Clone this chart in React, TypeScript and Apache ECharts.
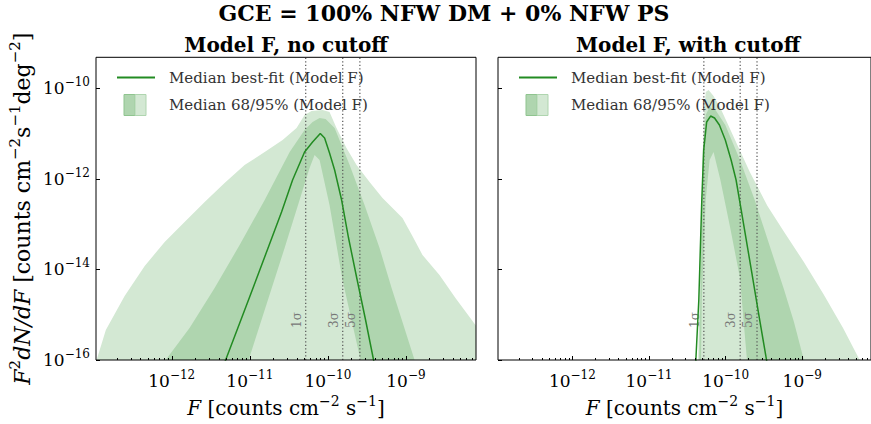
import { useEffect, useRef } from 'react';
import * as echarts from 'echarts';

const FONT = "'DejaVu Serif', serif";

// axis ranges
const X_MIN = 1.07e-13;
const X_MAX = 7.9e-9;
const Y_MIN = 9.99e-17;
const Y_MAX = 4.84e-10;

const xMajorTicks = [1e-12, 1e-11, 1e-10, 1e-9];
const yMajorTicks = [1e-16, 1e-14, 1e-12, 1e-10];
const xDecades = [-13, -12, -11, -10, -9];

const sigmaValues = [5.2e-11, 1.55e-10, 2.57e-10];
const sigmaLabels = ['1σ', '3σ', '5σ'];

// ---- Left panel: Model F, no cutoff ----
const lightLeftF = [1.09e-13, 1.43e-13, 2.49e-13, 4.5e-13, 8.11e-13, 1.46e-12, 2.64e-12, 4.75e-12, 8.57e-12, 1.55e-11, 2.63e-11, 3.97e-11, 5.03e-11, 6.18e-11, 8.55e-11, 1.05e-10, 1.29e-10, 1.73e-10, 2.33e-10, 3.42e-10, 5.01e-10, 7.14e-10, 9.03e-10, 1.21e-9, 1.63e-9, 2.69e-9, 4.31e-9, 7.78e-9, 1.17e-8];
const lightLeftY = [1e-16, 4.59e-16, 2.59e-15, 1.19e-14, 4.04e-14, 1.11e-13, 3.08e-13, 8.11e-13, 2.02e-12, 3.92e-12, 7.21e-12, 1.33e-11, 2.57e-11, 3.15e-11, 3.32e-11, 3.0e-11, 1.33e-11, 4.81e-12, 2.02e-12, 8.53e-13, 3.78e-13, 2.05e-13, 1.37e-13, 5.47e-14, 2.08e-14, 7.53e-15, 2.34e-15, 5.93e-16, 2.14e-16];

const darkLeftF = [8.35e-13, 1.69e-12, 3.54e-12, 7.4e-12, 1.55e-11, 3.24e-11, 5.03e-11, 6.37e-11, 7.83e-11, 9.35e-11, 1.22e-10, 1.9e-10, 2.95e-10, 4.59e-10, 6.55e-10, 9.03e-10, 1.29e-9, 1.49e-9];
const darkLeftY = [1e-16, 5.08e-16, 3.89e-15, 3.46e-14, 3.41e-13, 3.92e-12, 1.2e-11, 1.8e-11, 2.21e-11, 2.1e-11, 1.33e-11, 2.02e-12, 2.65e-13, 2.97e-14, 3.89e-15, 6.9e-16, 1e-16, 3.6e-17];

const innerLeftF = [8.09e-12, 9.66e-12, 1.55e-11, 2.79e-11, 4.34e-11, 5.83e-11, 6.76e-11, 7.83e-11, 1.05e-10, 1.54e-10, 2.62e-10, 2.95e-10];
const innerLeftY = [3.6e-17, 1e-16, 1.27e-15, 2.97e-14, 3.41e-13, 1.74e-12, 3.37e-12, 2.61e-12, 2.65e-13, 5.83e-15, 1e-16, 3.6e-17];

const medianLeftF = [4.14e-12, 4.9e-12, 9.94e-12, 1.79e-11, 2.55e-11, 3.53e-11, 5.03e-11, 6.37e-11, 7.99e-11, 9.08e-11, 1.05e-10, 1.22e-10, 1.5e-10, 1.84e-10, 2.33e-10, 3.04e-10, 3.85e-10, 4.2e-10];
const medianLeftY = [4.66e-17, 1e-16, 2.46e-15, 3.64e-14, 1.85e-13, 9.44e-13, 3.92e-12, 6.52e-12, 1.0e-11, 7.98e-12, 3.72e-12, 1.57e-12, 3.41e-13, 4.94e-14, 6.81e-15, 7.64e-16, 1e-16, 4.66e-17];

// ---- Right panel: Model F, with cutoff ----
const lightRightF = [4.34e-11, 4.54e-11, 4.96e-11, 5.18e-11, 5.5e-11, 6.0e-11, 6.96e-11, 8.55e-11, 1.33e-10, 2.07e-10, 3.52e-10, 5.81e-10, 1.05e-9, 1.89e-9, 3.41e-9, 5.62e-9, 8.26e-9];
const lightRightY = [3.6e-17, 2.11e-15, 3.41e-13, 2.0e-11, 8.28e-11, 9.17e-11, 6.76e-11, 3.67e-11, 7.21e-12, 1.42e-12, 2.52e-13, 6.7e-14, 1.46e-14, 2.86e-15, 5.08e-16, 1e-16, 2.8e-17];

const darkRightF = [4.47e-11, 4.67e-11, 5.03e-11, 5.5e-11, 6.18e-11, 7.38e-11, 9.91e-11, 1.54e-10, 2.4e-10, 3.73e-10, 5.81e-10, 7.8e-10, 1.05e-9, 1.21e-9];
const darkRightY = [3.6e-17, 2.11e-15, 4.34e-12, 2.57e-11, 3.86e-11, 3.32e-11, 1.55e-11, 2.61e-12, 3.41e-13, 3.46e-14, 3.51e-15, 6.9e-16, 1e-16, 3.6e-17];

const innerRightF = [4.74e-11, 4.89e-11, 5.5e-11, 6.18e-11, 6.96e-11, 8.55e-11, 1.15e-10, 1.54e-10, 1.9e-10, 2.07e-10];
const innerRightY = [3.6e-17, 2.11e-15, 3.41e-13, 2.61e-12, 3.92e-12, 9.44e-13, 8.22e-14, 6.47e-15, 1e-16, 3.6e-17];

const medianRightF = [4.09e-11, 4.09e-11, 4.47e-11, 4.89e-11, 5.18e-11, 5.66e-11, 6.37e-11, 7.17e-11, 8.3e-11, 9.91e-11, 1.18e-10, 1.37e-10, 1.64e-10, 2.2e-10, 2.7e-10, 3.42e-10, 3.73e-10];
const medianRightY = [4.66e-17, 1e-16, 2.11e-15, 3.41e-13, 4.34e-12, 1.8e-11, 2.44e-11, 2.21e-11, 1.55e-11, 7.21e-12, 2.61e-12, 9.44e-13, 1.59e-13, 8.34e-15, 1.04e-15, 1e-16, 4.66e-17];

const COLOR_LIGHT = '#d3e8d3';
const COLOR_DARK = '#afd5af';
const COLOR_LINE = '#228b22';

const GRID_LEFTS = [96, 498];
const GRID_TOP = 57.3;
const GRID_W = 380;
const GRID_H = 302.7;

function buildOption() {
  const xMinor: number[] = [];
  xDecades.forEach((e) => {
    for (let k = 2; k <= 9; k++) {
      const v = k * Math.pow(10, e);
      if (v > X_MIN && v < X_MAX) xMinor.push(v);
    }
  });

  const powFormatter = (v: number) => {
    const e = Math.round(Math.log10(v));
    return `{b|10}{s|${e < 0 ? '\u2212' : ''}${Math.abs(e)}}`;
  };
  const tickRich = {
    b: { fontFamily: FONT, fontSize: 17, lineHeight: 24, color: '#000' },
    s: { fontFamily: FONT, fontSize: 12, lineHeight: 12, verticalAlign: 'top', color: '#000' },
  };
  const nameRich = (S: number) => ({
    i: { fontFamily: FONT, fontStyle: 'italic', fontSize: S, lineHeight: S * 1.4, color: '#000' },
    n: { fontFamily: FONT, fontSize: S, lineHeight: S * 1.4, color: '#000' },
    s: { fontFamily: FONT, fontSize: Math.round(S * 0.7), lineHeight: Math.round(S * 0.7), verticalAlign: 'top', color: '#000' },
  });

  const xName = '{i|F} {n|[counts cm}{s|\u22122}{n| s}{s|\u22121}{n|]}';
  const yName = '{i|F}{s|2}{i|dN/dF} {n|[counts cm}{s|\u22122}{n|s}{s|\u22121}{n|deg}{s|\u22122}{n|]}';

  const grids = GRID_LEFTS.map((l) => ({
    left: l, top: GRID_TOP, width: GRID_W, height: GRID_H,
    show: true, borderColor: '#000', borderWidth: 1, backgroundColor: 'transparent', z: 5,
  }));

  const xAxes: any[] = [];
  const yAxes: any[] = [];
  [0, 1].forEach((g) => {
    xAxes.push({
      type: 'log', logBase: 10, gridIndex: g, position: 'bottom', min: X_MIN, max: X_MAX, z: 10,
      axisLine: { show: false, onZero: false },
      splitLine: { show: false },
      axisTick: { show: true, inside: true, length: 4, customValues: xMajorTicks, lineStyle: { color: '#000', width: 1 } },
      axisLabel: { show: true, customValues: xMajorTicks, formatter: powFormatter, rich: tickRich, margin: 9 },
      name: xName, nameLocation: 'middle', nameGap: 28,
      nameTextStyle: { fontFamily: FONT, fontSize: 20, color: '#000', rich: nameRich(20) },
    });
    xAxes.push({
      type: 'log', logBase: 10, gridIndex: g, position: 'bottom', min: X_MIN, max: X_MAX, z: 10,
      axisLine: { show: false, onZero: false },
      splitLine: { show: false },
      axisLabel: { show: false },
      axisTick: { show: true, inside: true, length: 2, customValues: xMinor, lineStyle: { color: '#000', width: 1 } },
    });
    yAxes.push({
      type: 'log', logBase: 10, gridIndex: g, position: 'left', min: Y_MIN, max: Y_MAX, z: 10,
      axisLine: { show: false, onZero: false },
      splitLine: { show: false },
      axisTick: { show: true, inside: true, length: 4, customValues: yMajorTicks, lineStyle: { color: '#000', width: 1 } },
      axisLabel: g === 0
        ? { show: true, customValues: yMajorTicks, formatter: powFormatter, rich: tickRich, margin: 6 }
        : { show: false },
      name: g === 0 ? yName : '',
      nameLocation: 'middle', nameGap: 58, nameRotate: 90,
      nameTextStyle: { fontFamily: FONT, fontSize: 22, color: '#000', rich: nameRich(22) },
    });
  });

  const zip = (F: number[], Y: number[]) => F.map((f, i) => [f, Y[i]]);
  const band = (F: number[], Y: number[], color: string, xi: number, yi: number, z: number) => ({
    type: 'line', xAxisIndex: xi, yAxisIndex: yi, data: zip(F, Y),
    symbol: 'none', showSymbol: false, silent: true, clip: true, z,
    lineStyle: { width: 0, opacity: 0 },
    areaStyle: { color, opacity: 1, origin: 'start' },
  });
  const median = (F: number[], Y: number[], xi: number, yi: number) => ({
    type: 'line', xAxisIndex: xi, yAxisIndex: yi, data: zip(F, Y),
    symbol: 'none', showSymbol: false, silent: true, clip: true, z: 4,
    lineStyle: { color: COLOR_LINE, width: 1.5 },
  });
  const sigma = (xi: number, yi: number) => ({
    type: 'custom', xAxisIndex: xi, yAxisIndex: yi, silent: true, z: 3,
    data: sigmaValues.map((v) => [v, Y_MIN]),
    renderItem: (params: any, api: any) => {
      const v = api.value(0);
      const b = api.coord([v, Y_MIN]);
      const t = api.coord([v, Y_MAX]);
      return {
        type: 'group',
        children: [
          { type: 'line', shape: { x1: b[0], y1: b[1], x2: t[0], y2: t[1] }, style: { stroke: '#555', lineWidth: 1.2, lineDash: [1.3, 2.2] } },
          {
            type: 'text', x: b[0] - 9, y: b[1] - 40, rotation: Math.PI / 2,
            style: { text: sigmaLabels[params.dataIndex], fontFamily: FONT, fontSize: 12, fill: '#777', align: 'center', verticalAlign: 'middle' },
          },
        ],
      };
    },
  });

  const series = [
    band(lightLeftF, lightLeftY, COLOR_LIGHT, 0, 0, 1),
    band(darkLeftF, darkLeftY, COLOR_DARK, 0, 0, 2),
    band(innerLeftF, innerLeftY, COLOR_LIGHT, 0, 0, 2),
    sigma(0, 0),
    median(medianLeftF, medianLeftY, 0, 0),
    band(lightRightF, lightRightY, COLOR_LIGHT, 2, 1, 1),
    band(darkRightF, darkRightY, COLOR_DARK, 2, 1, 2),
    band(innerRightF, innerRightY, COLOR_LIGHT, 2, 1, 2),
    sigma(2, 1),
    median(medianRightF, medianRightY, 2, 1),
  ];

  const elements: any[] = [
    { type: 'text', x: 444, y: 13, z: 100, style: { text: 'GCE = 100% NFW DM + 0% NFW PS', fontFamily: FONT, fontSize: 22, fontWeight: 'bold', fill: '#000', align: 'center', verticalAlign: 'middle' } },
    { type: 'text', x: GRID_LEFTS[0] + GRID_W / 2, y: 45, z: 100, style: { text: 'Model F, no cutoff', fontFamily: FONT, fontSize: 20, fontWeight: 'bold', fill: '#000', align: 'center', verticalAlign: 'middle' } },
    { type: 'text', x: GRID_LEFTS[1] + GRID_W / 2, y: 45, z: 100, style: { text: 'Model F, with cutoff', fontFamily: FONT, fontSize: 20, fontWeight: 'bold', fill: '#000', align: 'center', verticalAlign: 'middle' } },
  ];
  GRID_LEFTS.forEach((gl) => {
    elements.push(
      { type: 'line', z: 100, shape: { x1: gl + 21, y1: 77.5, x2: gl + 59, y2: 77.5 }, style: { stroke: COLOR_LINE, lineWidth: 2 } },
      { type: 'text', z: 100, x: gl + 73, y: 77.5, style: { text: 'Median best-fit (Model F)', fontFamily: FONT, fontSize: 15, fill: '#333', verticalAlign: 'middle' } },
      { type: 'rect', z: 100, shape: { x: gl + 28, y: 94.5, width: 11, height: 21 }, style: { fill: COLOR_DARK, stroke: '#8fc48f', lineWidth: 1 } },
      { type: 'rect', z: 100, shape: { x: gl + 39, y: 94.5, width: 11, height: 21 }, style: { fill: COLOR_LIGHT, stroke: COLOR_DARK, lineWidth: 1 } },
      { type: 'text', z: 100, x: gl + 73, y: 105, style: { text: 'Median 68/95% (Model F)', fontFamily: FONT, fontSize: 15, fill: '#333', verticalAlign: 'middle' } },
    );
  });

  return {
    animation: false,
    backgroundColor: '#fff',
    grid: grids,
    xAxis: xAxes,
    yAxis: yAxes,
    series,
    graphic: { elements },
  };
}

export default function App() {
  const ref = useRef<HTMLDivElement>(null);
  useEffect(() => {
    const chart = echarts.init(ref.current!, null, { renderer: 'svg' });
    chart.setOption(buildOption() as any);
    return () => chart.dispose();
  }, []);
  return <div ref={ref} style={{ position: 'fixed', left: 0, top: 0, width: 871, height: 424, background: '#fff' }} />;
}
